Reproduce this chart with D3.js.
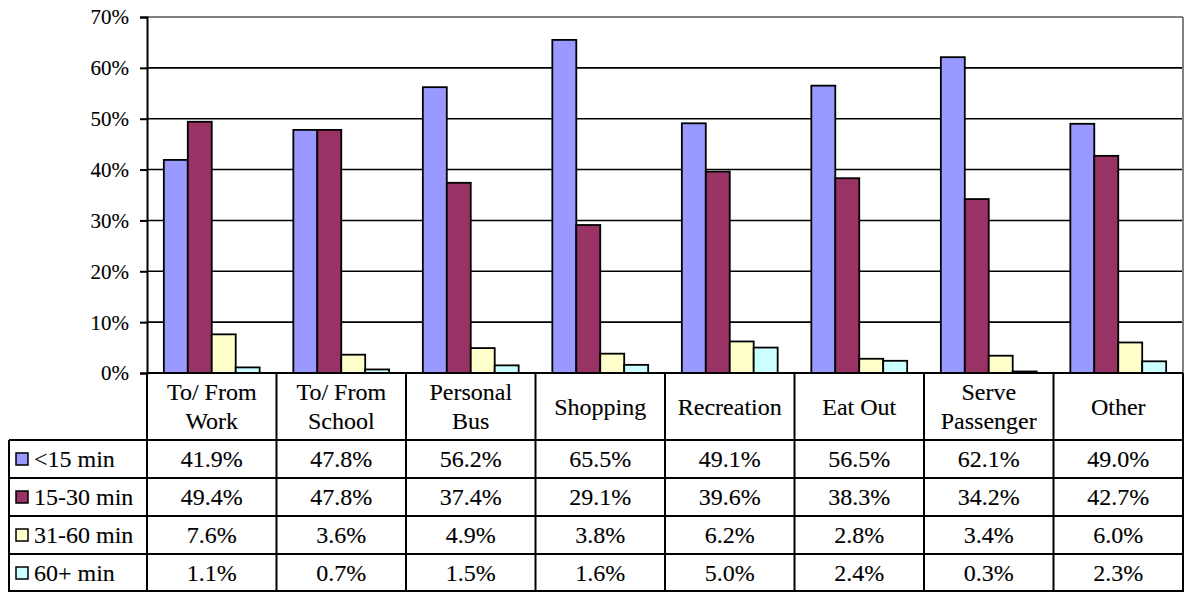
<!DOCTYPE html>
<html>
<head>
<meta charset="utf-8">
<script src="https://cdn.jsdelivr.net/npm/d3@7/dist/d3.min.js"></script>
<style>
  html, body { margin: 0; padding: 0; background: #fff; }
  svg { display: block; }
  svg text { font-family: "Liberation Serif", serif; fill: #000; stroke: #000; stroke-width: 0.12px; }
</style>
</head>
<body>
<svg id="chart" width="1186" height="592"></svg>
<script>
// Trip purposes (table columns / x categories)
const categories = [
  ["To/ From", "Work"],
  ["To/ From", "School"],
  ["Personal", "Bus"],
  ["Shopping"],
  ["Recreation"],
  ["Eat Out"],
  ["Serve", "Passenger"],
  ["Other"]
];
const categoryKeys = categories.map(c => c.join(" "));

// Travel-time bands
const seriesNames = ["<15 min", "15-30 min", "31-60 min", "60+ min"];
const seriesColors = ["#9999FF", "#993366", "#FFFFCC", "#CCFFFF"];

// Share of trips (%) per band, one array per series
const under15 = [41.9, 47.8, 56.2, 65.5, 49.1, 56.5, 62.1, 49.0];
const from15to30 = [49.4, 47.8, 37.4, 29.1, 39.6, 38.3, 34.2, 42.7];
const from31to60 = [7.6, 3.6, 4.9, 3.8, 6.2, 2.8, 3.4, 6.0];
const over60 = [1.1, 0.7, 1.5, 1.6, 5.0, 2.4, 0.3, 2.3];
const seriesValues = [under15, from15to30, from31to60, over60];

// Y axis ticks
const yTicks = [0, 10, 20, 30, 40, 50, 60, 70];

const svg = d3.select("#chart");

const plot = { left: 147, right: 1183, top: 17, bottom: 373 };
const table = { left: 9, headerBottom: 440, rowH: 38 };
const FS = 24;

const x0 = d3.scaleBand().domain(categoryKeys).range([plot.left, plot.right]);
const gap = x0.bandwidth() * 0.26;
const x1 = d3.scaleBand().domain(seriesNames).range([gap / 2, x0.bandwidth() - gap / 2]);
const y = d3.scaleLinear().domain([0, 70]).range([plot.bottom, plot.top]);

// Gridlines
svg.append("g")
  .selectAll("line")
  .data(yTicks.filter(t => t > 0 && t < 70))
  .join("line")
  .attr("x1", plot.left).attr("x2", plot.right)
  .attr("y1", d => y(d)).attr("y2", d => y(d))
  .attr("stroke", "#000").attr("stroke-width", 1.6);

// Plot-area frame (top and right in grey)
svg.append("line")
  .attr("x1", plot.left).attr("x2", plot.right)
  .attr("y1", y(70)).attr("y2", y(70))
  .attr("stroke", "#808080").attr("stroke-width", 2);
svg.append("line")
  .attr("x1", plot.right).attr("x2", plot.right)
  .attr("y1", y(70)).attr("y2", plot.bottom)
  .attr("stroke", "#808080").attr("stroke-width", 2);

// Y axis
const yAxis = d3.axisLeft(y)
  .tickValues(yTicks)
  .tickSize(7)
  .tickFormat(d => d + "%");
const gy = svg.append("g")
  .attr("transform", `translate(${plot.left},0)`)
  .call(yAxis);
gy.attr("font-family", null).attr("font-size", null);
gy.select(".domain").attr("stroke", "#000").attr("stroke-width", 2);
gy.selectAll(".tick line").attr("stroke", "#000").attr("stroke-width", 2);
gy.selectAll(".tick text")
  .attr("x", -18)
  .attr("dy", "0.33em")
  .style("font-size", "21px");

// Bars
const groups = svg.append("g")
  .selectAll("g")
  .data(categoryKeys)
  .join("g")
  .attr("transform", d => `translate(${x0(d)},0)`);

groups.selectAll("rect")
  .data((d, i) => seriesNames.map((s, j) => ({ s, j, v: seriesValues[j][i] })))
  .join("rect")
  .attr("x", d => x1(d.s))
  .attr("width", x1.bandwidth())
  .attr("y", d => y(d.v))
  .attr("height", d => y(0) - y(d.v))
  .attr("fill", d => seriesColors[d.j])
  .attr("stroke", "#000")
  .attr("stroke-width", 1.8);

// Data table
const tbl = svg.append("g");
const rowTop = j => table.headerBottom + j * table.rowH;
const tableBottom = rowTop(seriesNames.length);

// Horizontal rules
tbl.selectAll("line.h")
  .data(d3.range(seriesNames.length + 1))
  .join("line")
  .attr("class", "h")
  .attr("x1", table.left).attr("x2", plot.right)
  .attr("y1", d => rowTop(d)).attr("y2", d => rowTop(d))
  .attr("stroke", "#000").attr("stroke-width", 2);
tbl.append("line")
  .attr("x1", table.left).attr("x2", plot.right)
  .attr("y1", tableBottom - 1).attr("y2", tableBottom - 1)
  .attr("stroke", "#000").attr("stroke-width", 2);
tbl.append("line")
  .attr("x1", plot.left).attr("x2", plot.right)
  .attr("y1", plot.bottom).attr("y2", plot.bottom)
  .attr("stroke", "#000").attr("stroke-width", 2);

// Vertical rules
const colEdges = categoryKeys.map(k => x0(k)).concat([plot.right]);
tbl.selectAll("line.v")
  .data(colEdges)
  .join("line")
  .attr("class", "v")
  .attr("x1", d => d).attr("x2", d => d)
  .attr("y1", plot.bottom).attr("y2", tableBottom)
  .attr("stroke", "#000").attr("stroke-width", 2);
tbl.append("line")
  .attr("x1", table.left).attr("x2", table.left)
  .attr("y1", table.headerBottom).attr("y2", tableBottom)
  .attr("stroke", "#000").attr("stroke-width", 2);

// Category headers
const headerMid = (plot.bottom + table.headerBottom) / 2;
const lineGap = 29;
tbl.selectAll("text.cat")
  .data(categories)
  .join("text")
  .attr("class", "cat")
  .attr("text-anchor", "middle")
  .style("font-size", FS + "px")
  .each(function (lines, i) {
    const cx = x0(categoryKeys[i]) + x0.bandwidth() / 2;
    const t = d3.select(this);
    const start = headerMid - (lines.length - 1) * lineGap / 2;
    lines.forEach((ln, k) => {
      t.append("tspan")
        .attr("x", cx)
        .attr("y", start + k * lineGap)
        .attr("dy", "0.35em")
        .text(ln);
    });
  });

// Legend keys and row labels
const rows = tbl.selectAll("g.row")
  .data(seriesNames)
  .join("g")
  .attr("class", "row")
  .attr("transform", (d, j) => `translate(0,${rowTop(j) + table.rowH / 2})`);

rows.append("rect")
  .attr("x", 16).attr("y", -6)
  .attr("width", 12).attr("height", 12)
  .attr("fill", (d, j) => seriesColors[j])
  .attr("stroke", "#000").attr("stroke-width", 1.5);

rows.append("text")
  .attr("x", 34).attr("dy", "0.35em")
  .style("font-size", FS + "px")
  .text(d => d);

// Value cells
rows.selectAll("text.val")
  .data((d, j) => seriesValues[j].map((v, i) => ({ v, i })))
  .join("text")
  .attr("class", "val")
  .attr("x", d => x0(categoryKeys[d.i]) + x0.bandwidth() / 2)
  .attr("dy", "0.35em")
  .attr("text-anchor", "middle")
  .style("font-size", FS + "px")
  .text(d => d3.format(".1f")(d.v) + "%");
</script>
</body>
</html>
